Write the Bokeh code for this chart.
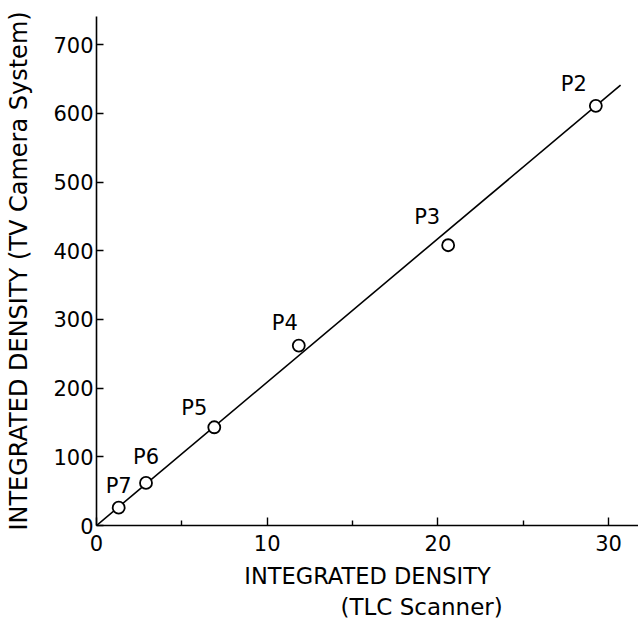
from bokeh.plotting import figure
from bokeh.models import FixedTicker, Range1d, ColumnDataSource, LabelSet, Title
from bokeh.core.properties import value
from bokeh.embed import file_html
from bokeh.resources import INLINE

# ---- data ----
point_names = ["P7", "P6", "P5", "P4", "P3", "P2"]
tlc_scanner = [1.3, 2.9, 6.9, 11.85, 20.6, 29.25]
tv_camera = [26, 62, 143, 262, 408, 611]
fit_x = [0, 30.7]
fit_y = [0, 641]
x_ticks = [0, 10, 20, 30]
x_minor_ticks = [5, 15, 25]
y_ticks = [0, 100, 200, 300, 400, 500, 600, 700]

# ---- styles / positions ----
FONT = "DejaVu Sans"
label_dx = [0, 0, -20, -14, -21, -22]
label_dy = [22, 26, 19, 23, 28, 22]

p = figure(width=638, height=621, output_backend="svg", toolbar_location=None,
           x_range=Range1d(0, 31.75), y_range=Range1d(0, 741),
           min_border_left=96, min_border_right=0, min_border_top=16, min_border_bottom=96)
p.outline_line_color = None
p.xgrid.visible = False
p.ygrid.visible = False
p.background_fill_color = "white"
p.border_fill_color = "white"

for ax in (p.xaxis[0], p.yaxis[0]):
    ax.axis_line_color = "black"
    ax.axis_line_width = 1.6
    ax.major_tick_line_color = "black"
    ax.major_tick_line_width = 1.4
    ax.minor_tick_line_color = "black"
    ax.minor_tick_line_width = 1.4
    ax.major_tick_out = 0
    ax.minor_tick_out = 0
    ax.major_label_text_font = FONT
    ax.major_label_text_font_size = "21px"
    ax.major_label_text_color = "black"
    ax.axis_label_text_font = FONT
    ax.axis_label_text_font_style = "normal"
    ax.axis_label_text_color = "black"

p.xaxis.axis_label_text_font_size = "22.5px"
p.yaxis.axis_label_text_font_size = "24px"
p.xaxis.ticker = FixedTicker(ticks=x_ticks, minor_ticks=x_minor_ticks)
p.yaxis.ticker = FixedTicker(ticks=y_ticks, minor_ticks=[])
p.xaxis.major_tick_in = 8
p.xaxis.minor_tick_in = 5
p.yaxis.major_tick_in = 7
p.yaxis.minor_tick_in = 0
p.xaxis.major_label_standoff = 9
p.yaxis.major_label_standoff = 3
p.xaxis.axis_label = "INTEGRATED DENSITY"
p.xaxis.axis_label_standoff = 9
p.yaxis.axis_label = "INTEGRATED DENSITY (TV Camera System)"
p.yaxis.axis_label_standoff = 17

p.add_layout(Title(text="(TLC Scanner)", align="left", offset=244, standoff=0,
                   text_font=FONT, text_font_size="23px", text_font_style="normal",
                   text_color="black"), "below")

p.line(fit_x, fit_y, line_color="black", line_width=1.6)
p.scatter(tlc_scanner, tv_camera, size=12, marker="circle",
          fill_color="white", line_color="black", line_width=1.8)

src = ColumnDataSource(dict(x=tlc_scanner, y=tv_camera, t=point_names,
                            dx=label_dx, dy=label_dy))
p.add_layout(LabelSet(x="x", y="y", text="t", source=src, x_offset="dx", y_offset="dy",
                      text_align="center", text_baseline="middle",
                      text_font=value(FONT), text_font_size=value("21px"),
                      text_color="black"))

open("out.html", "w").write(file_html(p, INLINE))
